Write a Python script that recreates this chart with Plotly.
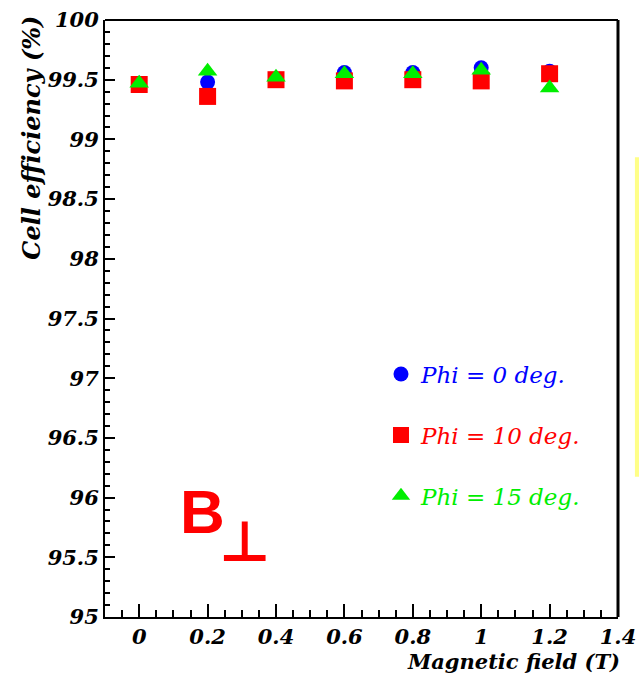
import plotly.graph_objects as go

# Magnetic field settings (T)
field = [0.0, 0.2, 0.4, 0.6, 0.8, 1.0, 1.2]

# Cell efficiency (%) for each wire angle
eff_phi0 = [99.47, 99.48, 99.50, 99.56, 99.56, 99.60, 99.57]
eff_phi10 = [99.46, 99.36, 99.50, 99.49, 99.50, 99.49, 99.55]
eff_phi15 = [99.47, 99.57, 99.52, 99.55, 99.55, 99.58, 99.43]

names = ["Phi = 0 deg.", "Phi = 10 deg.", "Phi = 15 deg."]
colors = ["#0000ff", "#ff0000", "#00ee00"]
symbols = ["circle", "square", "triangle-up"]
sizes = [15, 17, 17]

serif = "DejaVu Serif"

fig = go.Figure()
for i, ys in enumerate([eff_phi0, eff_phi10, eff_phi15]):
    fig.add_trace(go.Scatter(
        x=field, y=ys, mode="markers", name=f'<span style="color:{colors[i]}">{names[i]}</span>',
        legendgroup=f"g{i}",
        marker=dict(symbol=symbols[i], size=sizes[i], color=colors[i], line=dict(width=0)),
    ))

axis_font = dict(family=serif, size=21, color="black", style="italic", weight="bold")

fig.update_layout(
    width=639, height=673,
    margin=dict(l=105, r=21, t=20, b=56, autoexpand=False),
    paper_bgcolor="white", plot_bgcolor="white",
    showlegend=True,
    legend=dict(
        x=0.538, y=0.443, xanchor="left", yanchor="top",
        font=dict(family=serif, size=23, style="italic"),
        bgcolor="rgba(0,0,0,0)", tracegroupgap=28, itemwidth=30,
    ),
    xaxis=dict(
        range=[-0.1, 1.4], dtick=0.2, tick0=0, showgrid=False, zeroline=False,
        showline=True, linecolor="black", linewidth=2, mirror=False, automargin=False,
        ticks="inside", ticklen=13, tickwidth=2, tickcolor="black",
        minor=dict(dtick=0.05, ticks="inside", ticklen=7, tickwidth=2, tickcolor="black"),
        tickfont=axis_font,
    ),
    yaxis=dict(
        range=[95, 100], dtick=0.5, tick0=95, showgrid=False, zeroline=False,
        showline=True, linecolor="black", linewidth=2, mirror=False, automargin=False,
        ticks="inside", ticklen=10, tickwidth=2, tickcolor="black",
        minor=dict(dtick=0.1, ticks="inside", ticklen=5, tickwidth=2, tickcolor="black"),
        tickfont=axis_font,
    ),
)

# Frame: top and right edges
fig.add_shape(type="line", xref="paper", yref="paper", x0=0, x1=1, y0=1, y1=1,
              line=dict(color="black", width=2))
fig.add_shape(type="line", xref="paper", yref="paper", x0=1, x1=1, y0=0, y1=1,
              line=dict(color="black", width=3))

# Yellow strip at the right border
fig.add_shape(type="rect", xref="paper", yref="paper",
              x0=1.033, x1=1.045, y0=0.235, y1=0.77,
              fillcolor="#ffff88", line=dict(width=0), layer="below")

# Axis titles
fig.add_annotation(text="Cell efficiency (%)", xref="paper", yref="paper",
                   x=-0.145, y=1.01, xanchor="center", yanchor="top", textangle=-90,
                   showarrow=False, font=dict(family=serif, size=24, style="italic", weight="bold", color="black"))
fig.add_annotation(text="Magnetic field (T)", xref="paper", yref="paper",
                   x=1.008, y=-0.05, xanchor="right", yanchor="top",
                   showarrow=False, font=dict(family=serif, size=21, style="italic", weight="bold", color="black"))

# Field orientation label
fig.add_annotation(text="B", xref="paper", yref="paper", x=0.191, y=0.176,
                   xanchor="center", yanchor="middle", showarrow=False,
                   font=dict(family="Liberation Sans", size=62, weight="bold", color="#ff0000"))
fig.add_annotation(text="⊥", xref="paper", yref="paper", x=0.271, y=0.126,
                   xanchor="center", yanchor="middle", showarrow=False,
                   font=dict(family="DejaVu Sans", size=56, weight="bold", color="#ff0000"))

fig.write_html("out.html")
